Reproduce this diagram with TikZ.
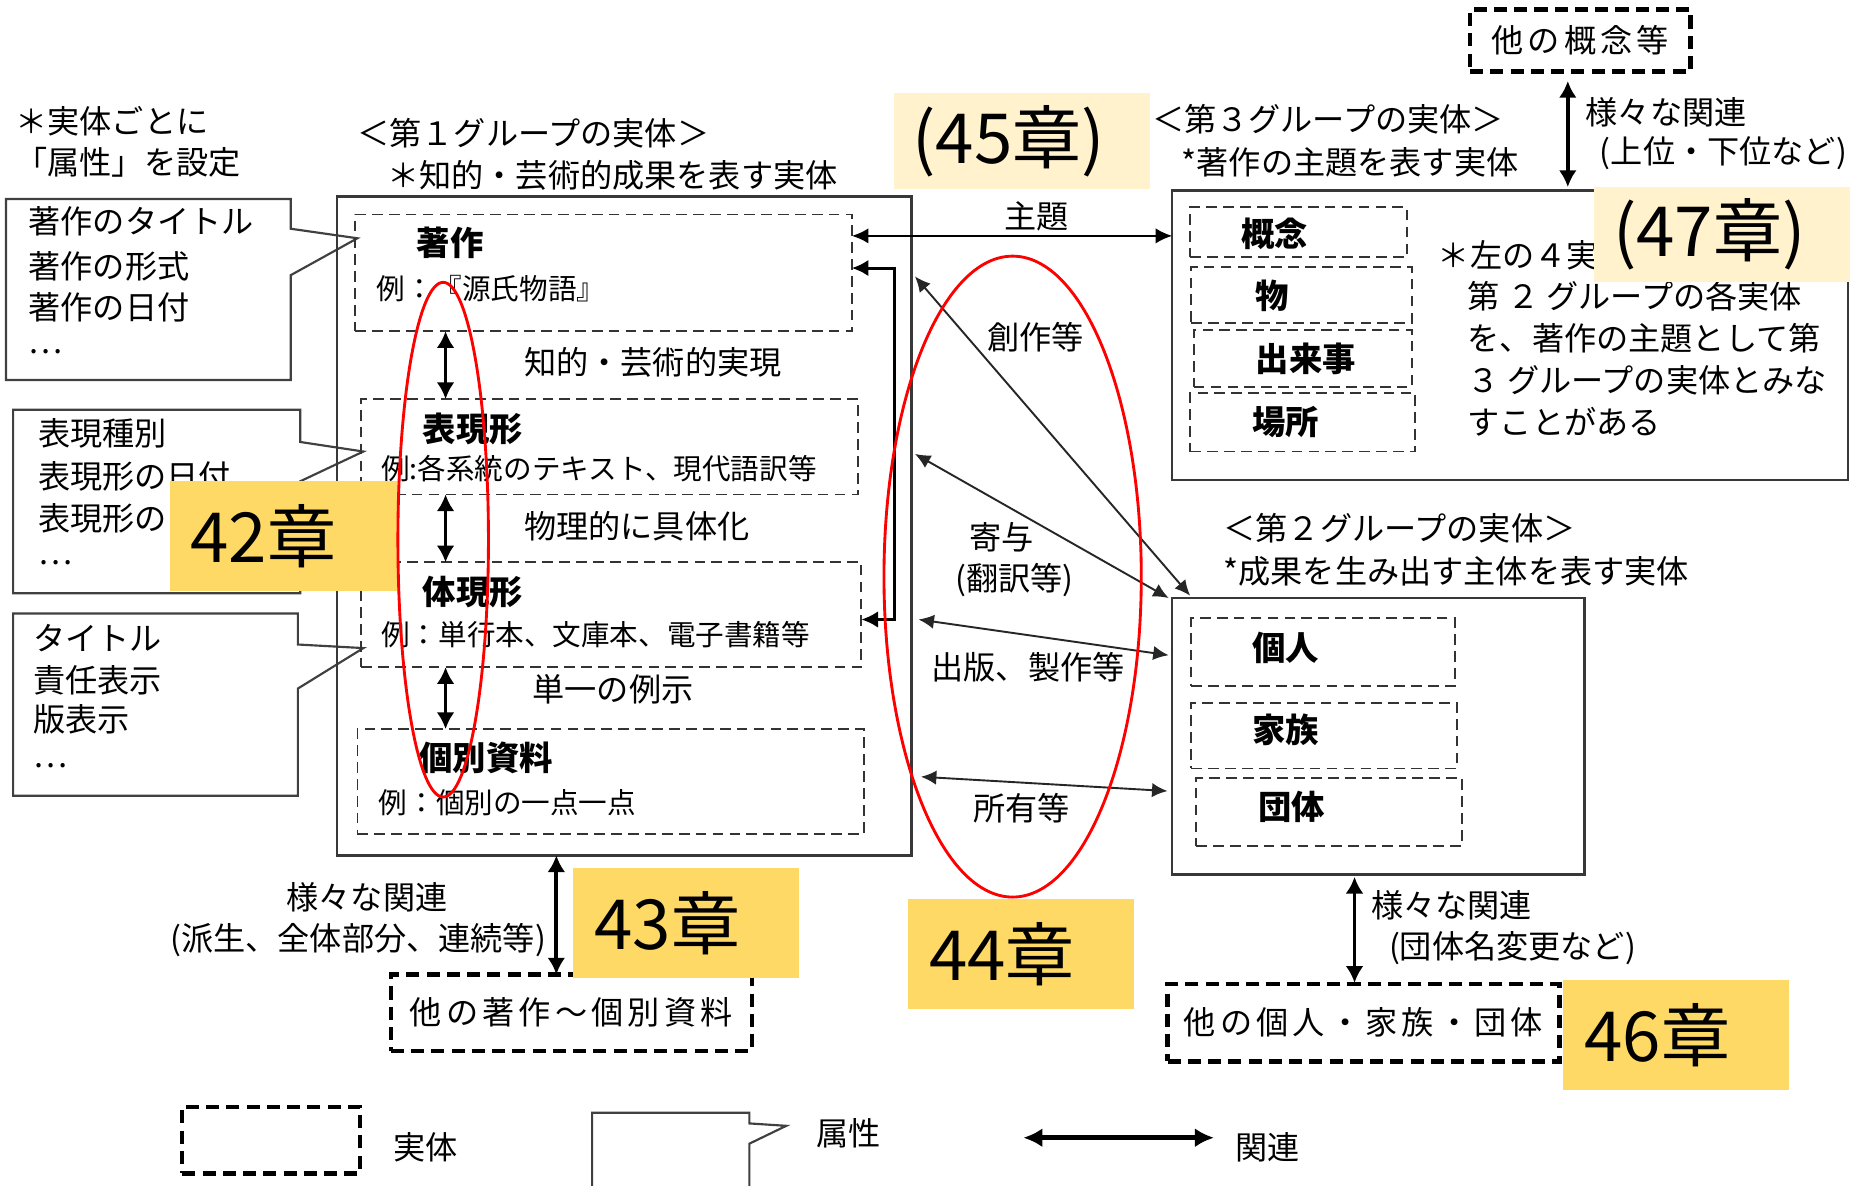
\documentclass[tikz,border=0pt]{standalone}
\usepackage{fontspec}
\setmainfont{Noto Sans CJK JP}
\newfontfamily\spacedjp[LetterSpace=13]{Noto Sans CJK JP}
\usetikzlibrary{arrows.meta,fit,calc}
\definecolor{gold}{HTML}{FFD966}
\definecolor{cream}{HTML}{FFF2CC}
\begin{document}
\begin{tikzpicture}[x=0.5pt,y=-0.5pt,
  every node/.style={inner sep=0pt,outer sep=0pt},
  fs/.style={font=\fontsize{13.5}{16}\selectfont,anchor=west},
  fsm/.style={font=\fontsize{12}{14}\selectfont,anchor=west},
  fsb/.style={font=\fontsize{14}{16}\selectfont\bfseries,anchor=west},
  fsp/.style={font=\fontsize{13.5}{16}\selectfont\spacedjp},
  chapfont/.style={font=\fontsize{29}{32}\selectfont,anchor=west},
  grpbox/.style={draw=black!78,line width=1pt},
  entbox/.style={draw=black!80,dash pattern=on 4.5pt off 2.6pt,line width=0.75pt},
  thickent/.style={draw=black,dash pattern=on 5.5pt off 3pt,line width=1.8pt},
  attrline/.style={draw=black!75,line width=0.9pt},
  rel/.style={{Latex[length=7pt,width=7.5pt]}-{Latex[length=7pt,width=7.5pt]},line width=1.6pt},
  relthin/.style={{Latex[length=6.5pt,width=6pt]}-{Latex[length=6.5pt,width=6pt]},line width=0.8pt,draw=black!85},
  goldbox/.style={fill=gold},
  creambox/.style={fill=cream},
  redring/.style={draw=red,line width=1.2pt}
]
\useasboundingbox[fill=white] (0,0) rectangle (1568,995);

% ---------- top-left note ----------
\node[fs] (noteA) at (13,102) {＊実体ごとに};
\node[fs] (noteB) at (13,136) {「属性」を設定};

% ---------- attribute callouts ----------
\draw[attrline] (244,192) -- (244,167) -- (5,167) -- (5,319) -- (244,319) -- (244,231) -- (300,200) -- cycle;
\node[fs] (a11) at (24,186) {著作のタイトル};
\node[fs] (a12) at (24,224) {著作の形式};
\node[fs] (a13) at (24,258) {著作の日付};
\node[fs] (a14) at (24,295) {…};

\draw[attrline] (252,371) -- (252,344) -- (11,344) -- (11,498) -- (252,498) -- (252,404) -- (305,379) -- cycle;
\node[fs] (a21) at (32,364) {表現種別};
\node[fs] (a22) at (32,400) {表現形の日付};
\node[fs] (a23) at (32,435) {表現形の};
\node[fs] (a24) at (32,472) {…};

\draw[attrline] (250,541) -- (250,515) -- (11,515) -- (11,668) -- (250,668) -- (250,578) -- (305,544) -- cycle;
\node[fs] (a31) at (28,536) {タイトル};
\node[fs] (a32) at (28,571) {責任表示};
\node[fs] (a33) at (28,604) {版表示};
\node[fs] (a34) at (28,643) {…};

% ---------- group 1 ----------
\node[fs] (g1t1) at (300,112) {＜第１グループの実体＞};
\node[fs] (g1t2) at (325,147) {＊知的・芸術的成果を表す実体};
\node[fit={(283,165)(765,718)},grpbox] (g1) {};
\node[fit={(298,180)(715,278)},entbox] (work) {};
\node[fit={(303,335)(720,415)},entbox] (expr) {};
\node[fit={(303,472)(723,560)},entbox] (manif) {};
\node[fit={(300,612)(725,700)},entbox] (item) {};

\node[fsb] (workN) at (350,204) {著作};
\node[fsm] (workE) at (316,242) {例：『源氏物語』};
\node[fsb] (exprN) at (355,360) {表現形};
\node[fsm] (exprE) at (320,393) {例:各系統のテキスト、現代語訳等};
\node[fsb] (manifN) at (355,497) {体現形};
\node[fsm] (manifE) at (320,533) {例：単行本、文庫本、電子書籍等};
\node[fsb] (itemN) at (352,636) {個別資料};
\node[fsm] (itemE) at (318,674) {例：個別の一点一点};

\coordinate (ax) at (374,0);
\draw[rel] (work.south -| ax) -- (expr.north -| ax);
\draw[rel] (expr.south -| ax) -- (manif.north -| ax);
\draw[rel] (manif.south -| ax) -- (item.north -| ax);
\node[fs] (l1) at (440,304) {知的・芸術的実現};
\node[fs] (l2) at (440,442) {物理的に具体化};
\node[fs] (l3) at (447,579) {単一の例示};

% bracket connector work <-> manifestation
\coordinate (br1) at (751,225);
\coordinate (br2) at (751,520);
\draw[{Latex[length=7pt,width=7pt]}-{Latex[length=7pt,width=7pt]},line width=1.3pt]
  (work.east |- br1) -- (br1) -- (br2) -- (manif.east |- br2);

% ---------- group 3 ----------
\node[fs] (g3t1) at (967,100) {＜第３グループの実体＞};
\node[fs] (g3t2) at (992,136) {*著作の主題を表す実体};
\node[fit={(984,160)(1551,403)},grpbox] (g3) {};
\node[fit={(999,174)(1181,216)},entbox] (concept) {};
\node[fit={(1000,224)(1185,271)},entbox] (object) {};
\node[fit={(1002,277)(1185,325)},entbox] (event) {};
\node[fit={(999,330)(1188,379)},entbox] (place) {};
\node[fsb] (conceptN) at (1042,196) {概念};
\node[fsb] (objectN) at (1054,248) {物};
\node[fsb] (eventN) at (1054,301) {出来事};
\node[fsb] (placeN) at (1051,354) {場所};
\node[fs] (n1) at (1207,214) {＊左の４実};
\node[fs] (n2) at (1232,249) {第 ２ グループの各実体};
\node[fs] (n3) at (1232,284) {を、著作の主題として第};
\node[fs] (n4) at (1232,319) {３ グループの実体とみな};
\node[fs] (n5) at (1232,354) {すことがある};

\node[fit={(1234,8)(1419,60)},thickent] (otherc) {};
\node[fsp] (othercT) at (otherc.center) {他の概念等};
\coordinate (cx) at (1316,0);
\draw[rel] ([yshift=-4pt]otherc.south -| cx) -- ([yshift=1.5pt]g3.north -| cx);
\node[fs] (c1) at (1331,94) {様々な関連};
\node[fs] (c2) at (1343,129) {(上位・下位など)};

% subject arrow
\coordinate (sy) at (0,198);
\draw[{Latex[length=7pt,width=6.5pt]}-{Latex[length=7pt,width=6.5pt]},line width=1pt]
  (work.east |- sy) -- (g3.west |- sy);
\node[fs] (subj) at (843,182) {主題};

% ---------- group 2 ----------
\node[fs] (g2t1) at (1027,443) {＜第２グループの実体＞};
\node[fs] (g2t2) at (1027,480) {*成果を生み出す主体を表す実体};
\node[fit={(984,502)(1330,734)},grpbox] (g2) {};
\node[fit={(1000,519)(1221,576)},entbox] (person) {};
\node[fit={(1000,590)(1223,645)},entbox] (family) {};
\node[fit={(1004,653)(1227,710)},entbox] (corp) {};
\node[fsb] (personN) at (1051,544) {個人};
\node[fsb] (familyN) at (1051,613) {家族};
\node[fsb] (corpN) at (1056,677) {団体};

\node[fit={(980,826)(1309,891)},thickent] (otherp) {};
\node[fsp] (otherpT) at (otherp.center) {他の個人・家族・団体};
\coordinate (px) at (1137,0);
\draw[rel] ([yshift=-1pt]g2.south -| px) -- ([yshift=0.5pt]otherp.north -| px);
\node[fs] (p1) at (1151,760) {様々な関連};
\node[fs] (p2) at (1166,796) {(団体名変更など)};

% ---------- relations group1 <-> group2 ----------
\coordinate (r1) at (0,232);
\coordinate (r2) at (0,381);
\coordinate (r3) at (0,520);
\coordinate (r4) at (0,652);
\coordinate (q3) at (0,550);
\coordinate (q4) at (0,664);
\coordinate (qx) at (999,0);
\draw[relthin] ([xshift=1.5pt]g1.east |- r1) -- ([yshift=1pt]g2.north -| qx);
\draw[relthin] ([xshift=1.5pt]g1.east |- r2) -- ([xshift=-1.5pt]g2.north west);
\draw[relthin] ([xshift=3pt]g1.east |- r3) -- ([xshift=-1.5pt]g2.west |- q3);
\draw[relthin] ([xshift=4pt]g1.east |- r4) -- ([xshift=-2pt]g2.west |- q4);
\node[fs] (lab1) at (829,283) {創作等};
\node[fs] (lab2) at (814,451) {寄与};
\node[fs] (lab2b) at (802,487) {(翻訳等)};
\node[fs] (lab3) at (782,560) {出版、製作等};
\node[fs] (lab4) at (817,678) {所有等};

% ---------- group1 bottom ----------
\node[fit={(328,818)(631,882)},thickent] (otherw) {};
\node[fsp] (otherwT) at (otherw.center) {他の著作～個別資料};
\coordinate (wx) at (467,0);
\draw[rel] (g1.south -| wx) -- (otherw.north -| wx);
\node[fs,anchor=center] (w1) at (308,753) {様々な関連};
\node[fs] (w2) at (143,789) {(派生、全体部分、連続等)};

% ---------- legend ----------
\node[fit={(153,929)(302,985)},thickent] (legE) {};
\node[fs] (legEt) at (330,963) {実体};
\draw[attrline] (497,996) -- (497,934) -- (629,934) -- (629,943) -- (660,945) -- (629,960) -- (629,996);
\node[fs] (legAt) at (685,951) {属性};
\coordinate (lg1) at (859,955);
\coordinate (lg2) at (1019,955);
\draw[{Latex[length=8pt,width=8pt]}-{Latex[length=8pt,width=8pt]},line width=2pt] (lg1) -- (lg2);
\node[fs] (legRt) at (1037,963) {関連};

% ---------- chapter labels ----------
\node[fit={(750,78)(965,159)},creambox] (c45) {};
\node[chapfont] at ([xshift=8pt]c45.west) {(45章)};
\node[fit={(1338,157)(1553,237)},creambox] (c47) {};
\node[chapfont] at ([xshift=8pt]c47.west) {(47章)};
\node[fit={(143,404)(334,496)},goldbox] (c42) {};
\node[chapfont] at ([xshift=8.5pt]c42.west) {42章};
\node[fit={(481,729)(671,821)},goldbox] (c43) {};
\node[chapfont] at ([xshift=9pt]c43.west) {43章};
\node[fit={(762,755)(952,847)},goldbox] (c44) {};
\node[chapfont] at ([xshift=9pt]c44.west) {44章};
\node[fit={(1312,823)(1502,915)},goldbox] (c46) {};
\node[chapfont] at ([xshift=9pt]c46.west) {46章};

% ---------- red rings ----------
\draw[redring] (372,453) ellipse [x radius=19pt,y radius=108pt];
\draw[redring] (850,484) ellipse [x radius=54pt,y radius=134.5pt];
\end{tikzpicture}
\end{document}
